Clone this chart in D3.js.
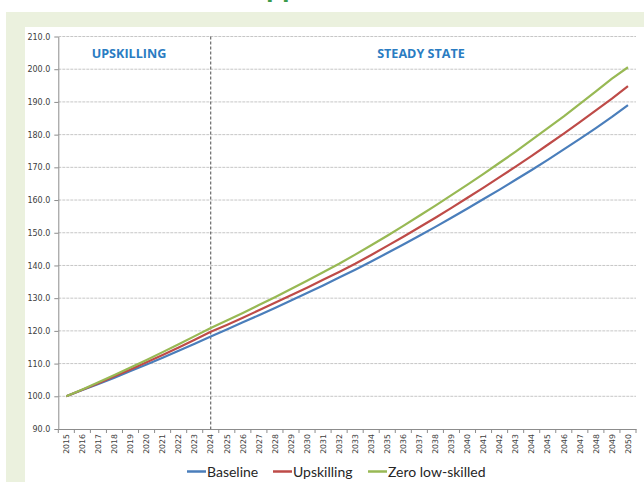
<!DOCTYPE html>
<html>
<head>
<meta charset="utf-8">
<script src="https://cdn.jsdelivr.net/npm/d3@7"></script>
<style>
  body { margin: 0; background: #fff; }
  svg { display: block; }
</style>
</head>
<body>
<svg width="644" height="482"></svg>
<script>
// chart data (index, 2015 = 100)
const years = ['2015','2016','2017','2018','2019','2020','2021','2022','2023','2024',
  '2025','2026','2027','2028','2029','2030','2031','2032','2033','2034','2035','2036',
  '2037','2038','2039','2040','2041','2042','2043','2044','2045','2046','2047','2048',
  '2049','2050'];

const baseline = [100.0,101.9,103.8,105.7,107.7,109.7,111.8,113.9,116.1,118.3,
  120.4,122.6,124.8,127.0,129.3,131.6,133.9,136.3,138.7,141.2,143.8,146.4,
  149.1,151.8,154.6,157.4,160.3,163.2,166.2,169.2,172.3,175.5,178.7,182.0,
  185.4,189.0];

const upskilling = [100.0,102.0,104.0,106.1,108.2,110.4,112.6,114.9,117.3,119.7,
  121.8,124.0,126.3,128.6,130.9,133.2,135.6,138.0,140.5,143.2,146.0,148.8,
  151.7,154.6,157.6,160.7,163.8,167.0,170.2,173.5,176.9,180.3,183.8,187.4,
  191.0,194.8];

const zeroLow = [100.0,102.1,104.3,106.5,108.8,111.1,113.5,115.9,118.4,120.9,
  123.2,125.5,127.9,130.3,132.8,135.3,137.9,140.5,143.3,146.2,149.1,152.1,
  155.2,158.3,161.5,164.7,168.0,171.4,174.8,178.4,182.0,185.6,189.4,193.2,
  197.1,200.6];

const yTicks = [90,100,110,120,130,140,150,160,170,180,190,200,210];
const seriesNames = ['Baseline','Upskilling','Zero low-skilled'];
const seriesColors = ['#4a7ebb','#be4b48','#98b954'];
const splitYear = '2024';
const phaseLabels = ['UPSKILLING','STEADY STATE'];

const svg = d3.select('svg');

// page background: green frame and white chart panel
svg.append('rect').attr('x', 6).attr('y', 12).attr('width', 644).attr('height', 482).attr('fill', '#ebf1de');
svg.append('rect').attr('x', 25).attr('y', 27).attr('width', 644).attr('height', 482).attr('fill', '#fff');

// cut-off title above the frame (only the descenders show)
const title = svg.append('text')
  .attr('y', -4.5)
  .attr('font-family', 'Open Sans, sans-serif')
  .attr('font-weight', 'bold')
  .attr('font-size', 25)
  .attr('fill', '#3a9a4a');
title.append('tspan').attr('x', 246).attr('text-anchor', 'end').text('Alternative');
title.append('tspan').attr('x', 251).attr('text-anchor', 'start').text('approach, 2015 = 100');

const plotLeft = 58.3, plotRight = 636, plotTop = 36.5, plotBottom = 429;

const x = d3.scaleBand().domain(years).range([plotLeft, plotRight]).paddingInner(0).paddingOuter(0);
const y = d3.scaleLinear().domain([90, 210]).range([plotBottom, plotTop]);
const cx = d => x(d) + x.bandwidth() / 2;

// gridlines
svg.append('g')
  .selectAll('line')
  .data(yTicks.filter(d => d > 90))
  .enter().append('line')
  .attr('x1', plotLeft).attr('x2', plotRight)
  .attr('y1', d => y(d)).attr('y2', d => y(d))
  .attr('stroke', '#c6c6c6')
  .attr('stroke-width', 1)
  .attr('stroke-dasharray', '3,1');

// y axis
const yAxis = svg.append('g')
  .attr('transform', 'translate(' + plotLeft + ',0)')
  .call(d3.axisLeft(y).tickValues(yTicks).tickFormat(d3.format('.1f')).tickSize(4).tickSizeOuter(0));
yAxis.select('.domain').attr('stroke', '#8c8c8c');
yAxis.selectAll('.tick line').attr('stroke', '#8c8c8c');
yAxis.selectAll('.tick text')
  .attr('x', -8)
  .attr('font-family', 'DejaVu Sans, sans-serif')
  .attr('font-size', 8)
  .attr('fill', '#404040');

// x axis (labels at band centers, ticks at band edges)
const xAxis = svg.append('g')
  .attr('transform', 'translate(0,' + plotBottom + ')')
  .call(d3.axisBottom(x).tickSize(0).tickSizeOuter(0));
xAxis.select('.domain').attr('stroke', '#8c8c8c');
xAxis.selectAll('.tick text')
  .attr('transform', 'rotate(-90)')
  .attr('x', -5)
  .attr('y', 0)
  .attr('dy', '0.35em')
  .style('text-anchor', 'end')
  .attr('font-family', 'DejaVu Sans, sans-serif')
  .attr('font-size', 7.8)
  .attr('fill', '#404040');

svg.append('g')
  .selectAll('line')
  .data(years.map(d => x(d)).concat([plotRight]))
  .enter().append('line')
  .attr('x1', d => d).attr('x2', d => d)
  .attr('y1', plotBottom).attr('y2', plotBottom + 4)
  .attr('stroke', '#8c8c8c');

// phase divider
svg.append('line')
  .attr('x1', cx(splitYear)).attr('x2', cx(splitYear))
  .attr('y1', plotTop).attr('y2', plotBottom)
  .attr('stroke', '#4d4d4d')
  .attr('stroke-width', 1)
  .attr('stroke-dasharray', '3,2');

// phase labels
svg.selectAll('.phase')
  .data(phaseLabels)
  .enter().append('text')
  .attr('class', 'phase')
  .attr('x', (d, i) => i === 0 ? 129 : 421)
  .attr('y', 58)
  .attr('text-anchor', 'middle')
  .attr('font-family', 'Open Sans, sans-serif')
  .attr('font-weight', 'bold')
  .attr('font-size', 12.6)
  .attr('fill', '#2a7cc2')
  .text(d => d);

// lines
const allSeries = [baseline, upskilling, zeroLow];
const line = d3.line().x((d, i) => cx(years[i])).y(d => y(d));

svg.append('g')
  .selectAll('path')
  .data(allSeries)
  .enter().append('path')
  .attr('d', line)
  .attr('fill', 'none')
  .attr('stroke', (d, i) => seriesColors[i])
  .attr('stroke-width', 2.2)
  .attr('stroke-linejoin', 'round');

// legend
const legendX = [187, 273, 368];
const legend = svg.append('g')
  .selectAll('g')
  .data(seriesNames)
  .enter().append('g')
  .attr('transform', (d, i) => 'translate(' + legendX[i] + ',471.5)');
legend.append('line')
  .attr('x1', 0).attr('x2', 19)
  .attr('y1', 0).attr('y2', 0)
  .attr('stroke', (d, i) => seriesColors[i])
  .attr('stroke-width', 2.5);
legend.append('text')
  .attr('x', 20)
  .attr('y', 5)
  .attr('font-family', 'Lato, sans-serif')
  .attr('font-size', 14)
  .attr('fill', '#262626')
  .text(d => d);
</script>
</body>
</html>
